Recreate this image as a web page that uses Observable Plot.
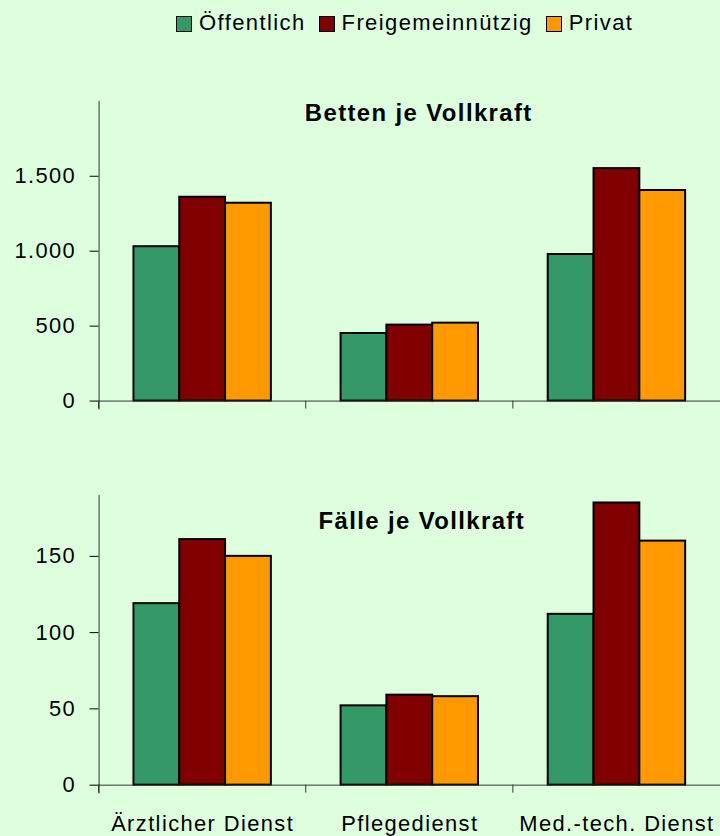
<!DOCTYPE html>
<html><head><meta charset="utf-8">
<script src="https://cdn.jsdelivr.net/npm/d3@7"></script>
<script src="https://cdn.jsdelivr.net/npm/@observablehq/plot@0.6"></script>
<style>
html,body{margin:0;padding:0;width:720px;height:836px;overflow:hidden;background:#DDFFDD;font-family:"Liberation Sans",Arial,sans-serif;}
#legend{position:absolute;left:176px;top:10px;display:flex;align-items:center;font-size:22px;letter-spacing:1.4px;color:#000;line-height:26px;}
.item{display:flex;align-items:center;margin-right:13px}
.sw{width:14px;height:14px;border:1.5px solid #000;margin-right:7px;margin-top:2px}
#top{position:absolute;left:0;top:60px}
#bottom{position:absolute;left:0;top:460px}
</style></head><body>
<div id="legend"></div><div id="top"></div><div id="bottom"></div>
<script>
const categories = ["Ärztlicher Dienst", "Pflegedienst", "Med.-tech. Dienst"];
const series = ["Öffentlich", "Freigemeinnützig", "Privat"];
const colors = ["#339966", "#800000", "#FF9900"];
const bettenOeffentlich = [1030, 451, 978];
const bettenFreigemein = [1360, 507, 1551];
const bettenPrivat = [1320, 520, 1405];
const faelleOeffentlich = [119, 52, 112];
const faelleFreigemein = [161, 59, 185];
const faellePrivat = [150, 58, 160];
const bettenTicks = [0, 500, 1000, 1500];
const faelleTicks = [0, 50, 100, 150];
const titles = ["Betten je Vollkraft", "Fälle je Vollkraft"];

const de = d3.formatLocale({decimal: ",", thousands: ".", grouping: [3], currency: ["", " €"]});
const fmt = de.format(",d");

function rowsOf(lists) {
  const rows = [];
  categories.forEach((c, i) => series.forEach((s, j) => rows.push({cat: c, series: s, value: lists[j][i]})));
  return rows;
}

// legend
const leg = d3.select("#legend");
series.forEach((s, j) => {
  const it = leg.append("div").attr("class", "item");
  it.append("div").attr("class", "sw").style("background", colors[j]);
  it.append("span").text(s);
});

function boundaryTicks(index, scales) {
  const x0 = scales.x.range()[0];
  const y0 = scales.y(0);
  const g = d3.create("svg:g");
  g.append("line").attr("x1", x0).attr("x2", x0).attr("y1", y0).attr("y2", y0 + 8)
    .attr("stroke", "#333").attr("stroke-width", 1);
  return g.node();
}

function panel({rows, ticks, max, title, height, marginTop, marginBottom, showLabels, titleDx, titleDy}) {
  return Plot.plot({
    width: 723, height, marginLeft: 99, marginRight: 0, marginTop, marginBottom,
    style: "background:transparent;font-family:'Liberation Sans',Arial,sans-serif;font-size:22px;letter-spacing:1.4px;color:#000;overflow:visible;",
    fx: {domain: categories, padding: 0, label: null, axis: showLabels ? "bottom" : null, tickSize: 0, tickPadding: 30},
    x: {domain: series, paddingInner: 0, paddingOuter: 0.745, axis: null},
    y: {domain: [0, max], ticks, tickFormat: fmt, tickSize: 9, tickPadding: 14, label: null, grid: false},
    color: {domain: series, range: colors},
    marks: [
      Plot.barY(rows, {fx: "cat", x: "series", y: "value", fill: "series", stroke: "#000", strokeWidth: 2}),
      Plot.ruleY([0], {stroke: "#333", strokeWidth: 1}),
      Plot.frame({anchor: "left", facetAnchor: "left", stroke: "#333", strokeWidth: 1, insetBottom: -8}),
      boundaryTicks,
      Plot.text([{cat: categories[1], t: title}], {fx: "cat", text: "t", frameAnchor: "top", lineAnchor: "top",
        dx: titleDx, dy: titleDy, fontSize: 24, fontWeight: "bold", fill: "#000"})
    ]
  });
}

document.getElementById("top").append(panel({
  rows: rowsOf([bettenOeffentlich, bettenFreigemein, bettenPrivat]), ticks: bettenTicks, max: 2000,
  title: titles[0], height: 360, marginTop: 41, marginBottom: 18, showLabels: false, titleDx: 9, titleDy: 3
}));
document.getElementById("bottom").append(panel({
  rows: rowsOf([faelleOeffentlich, faelleFreigemein, faellePrivat]), ticks: faelleTicks, max: 190,
  title: titles[1], height: 376, marginTop: 35, marginBottom: 50, showLabels: true, titleDx: 12, titleDy: 17
}));
</script>
</body></html>
